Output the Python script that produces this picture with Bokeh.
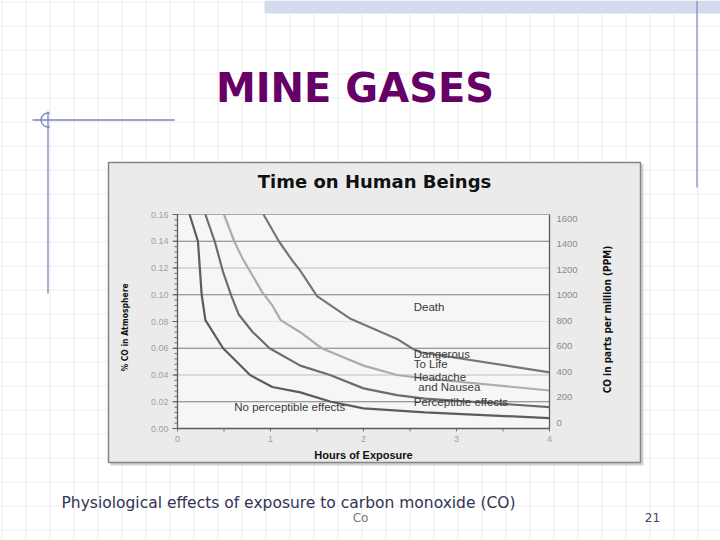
import numpy as np
from bokeh.plotting import figure
from bokeh.models import Range1d
from bokeh.core.properties import value
from bokeh.embed import file_html
from bokeh.resources import INLINE

# ---------------- data ----------------
hour_ticks = [0, 1, 2, 3, 4]
hour_labels = ["0", "1", "2", "3", "4"]
pct_ticks = [0.00, 0.02, 0.04, 0.06, 0.08, 0.10, 0.12, 0.14, 0.16]
pct_labels = ["0.00", "0.02", "0.04", "0.06", "0.08", "0.10", "0.12", "0.14", "0.16"]
ppm_ticks = [0, 200, 400, 600, 800, 1000, 1200, 1400, 1600]
ppm_labels = ["0", "200", "400", "600", "800", "1000", "1200", "1400", "1600"]

# boundary curves (hours of exposure, % CO in atmosphere)
noeffect_h = [0.13, 0.22, 0.26, 0.30, 0.49, 0.78, 1.02, 1.32, 1.65, 2.00, 2.66, 4.00]
noeffect_pct = [0.160, 0.140, 0.100, 0.081, 0.060, 0.040, 0.031, 0.027, 0.020, 0.015, 0.012, 0.0078]

headache_h = [0.30, 0.40, 0.49, 0.58, 0.66, 0.81, 0.99, 1.32, 1.64, 2.00, 2.36, 2.66, 4.00]
headache_pct = [0.160, 0.140, 0.117, 0.099, 0.085, 0.072, 0.060, 0.047, 0.040, 0.030, 0.025, 0.0224, 0.0160]

danger_h = [0.50, 0.61, 0.70, 0.81, 0.91, 1.02, 1.11, 1.32, 1.55, 2.00, 2.36, 2.66, 4.00]
danger_pct = [0.160, 0.140, 0.127, 0.114, 0.102, 0.092, 0.081, 0.072, 0.060, 0.047, 0.040, 0.0374, 0.0284]

death_h = [0.925, 1.09, 1.23, 1.32, 1.50, 1.86, 2.36, 2.52, 2.61, 4.00]
death_pct = [0.160, 0.140, 0.126, 0.118, 0.099, 0.082, 0.067, 0.060, 0.057, 0.042]

zone_text = ["Death", "Dangerous", "To Life", "Headache", "and Nausea", "Perceptible effects", "No perceptible effects"]
zone_h = [2.54, 2.54, 2.54, 2.54, 2.59, 2.54, 0.61]
zone_pct = [0.0905, 0.0557, 0.0479, 0.0385, 0.0307, 0.0198, 0.0161]

grid_levels = [0.02, 0.04, 0.06, 0.08, 0.10, 0.12, 0.14]

# ---------------- layout (screen pixels of the 720x540 window) ----------------
W, H, M = 720, 540, 0
PL, PR, PT, PB = 177, 549, 214, 428          # chart plot area
PPM0_Y, PPM1600_Y = 422, 218

hpp = 4.0 / (PR - PL)                         # hours per px
ppp = 0.16 / (PB - PT)                        # pct per px
mpp = 1600.0 / (PPM0_Y - PPM1600_Y)           # ppm per px

p = figure(width=W, height=H, x_range=Range1d(M, M + W), y_range=Range1d(M + H, M),
           x_axis_location=None, y_axis_location=None, min_border=0,
           toolbar_location=None, output_backend="svg")
p.grid.visible = False
p.outline_line_color = None
p.background_fill_color = "white"
p.border_fill_color = "white"

p.extra_x_ranges = {"hours": Range1d((M - PL) * hpp, (M + W - PL) * hpp)}
p.extra_y_ranges = {
    "pct": Range1d((PB - (M + H)) * ppp, (PB - M) * ppp),
    "ppm": Range1d((PPM0_Y - (M + H)) * mpp, (PPM0_Y - M) * mpp),
}

# ---------------- slide background ----------------
gx = np.arange(1, 721, 24) + 0.5
gy = np.arange(1, 541, 24) + 0.5
p.segment(x0=gx, y0=0, x1=gx, y1=540, line_color="#dadada", line_dash="1 1", line_width=1)
p.segment(x0=0, y0=gy, x1=720, y1=gy, line_color="#dadada", line_dash="1 1", line_width=1)

p.quad(left=264, right=720, top=0, bottom=13, fill_color="#d3dbec", line_color=None)
p.segment(x0=[696.5], y0=[0], x1=[696.5], y1=[187], line_color="#8290c0", line_width=1.3)
p.segment(x0=[32, 47.5], y0=[119.5, 111], x1=[174, 47.5], y1=[119.5, 293],
          line_color="#7786b6", line_width=1.3)
p.arc(x=[47.5], y=[119.5], radius=7, start_angle=np.pi * 0.42, end_angle=np.pi * 1.58,
      direction="anticlock", line_color="#7786b6", line_width=1.3)

p.text(x=[354.5], y=[87], text=["MINE GASES"], text_font=value("DejaVu Sans"),
       text_font_style="bold", text_font_size="40px", text_color="#660066",
       text_align="center", text_baseline="alphabetic")

# ---------------- chart picture ----------------
p.quad(left=110, right=643, top=164, bottom=465, fill_color="#d2d2d2", line_color=None)
p.quad(left=108, right=640, top=162, bottom=462, fill_color="#ebebeb",
       line_color="#858585", line_width=1.5)

p.text(x=[374], y=[181], text=["Time on Human Beings"], text_font=value("DejaVu Sans"),
       text_font_style="bold", text_font_size="18px", text_color="#111111",
       text_align="center", text_baseline="middle")

# plot area
p.quad(left=[0], right=[4], bottom=[0], top=[0.16], x_range_name="hours", y_range_name="pct",
       fill_color="#f6f6f6", line_color=None)
grid_colors = ["#7c7c7c", "#bdbdbd", "#7c7c7c", "#e2e2e2", "#7c7c7c", "#bdbdbd", "#7c7c7c"]
p.segment(x0=0, y0=grid_levels, x1=4, y1=grid_levels, line_color=grid_colors, line_width=1,
          x_range_name="hours", y_range_name="pct")
p.segment(x0=[0], y0=[0.16], x1=[4], y1=[0.16], line_color="#a8a8a8", line_width=1,
          x_range_name="hours", y_range_name="pct")

# curves
for hs, ps, col in [(noeffect_h, noeffect_pct, "#5c5c5c"),
                    (headache_h, headache_pct, "#6c6c6c"),
                    (danger_h, danger_pct, "#acacac"),
                    (death_h, death_pct, "#767676")]:
    p.line(hs, ps, line_color=col, line_width=2.2, x_range_name="hours", y_range_name="pct")

# axes lines and ticks
p.segment(x0=[0, 0, 4], y0=[0, 0, 0], x1=[0, 4, 4], y1=[0.16, 0, 0.16], line_color="#5a5a5a",
          line_width=1.3, x_range_name="hours", y_range_name="pct")
minor = np.arange(0, 0.1601, 0.004)
p.segment(x0=0, y0=minor, x1=-3 * hpp, y1=minor, line_color="#6a6a6a", line_width=1,
          x_range_name="hours", y_range_name="pct")
p.segment(x0=0, y0=pct_ticks, x1=-5 * hpp, y1=pct_ticks, line_color="#5a5a5a", line_width=1,
          x_range_name="hours", y_range_name="pct")
xt = np.arange(0, 4.01, 0.5)
p.segment(x0=xt, y0=0, x1=xt, y1=-3 * ppp, line_color="#6a6a6a", line_width=1,
          x_range_name="hours", y_range_name="pct")

# tick labels
p.text(x=0, y=pct_ticks, text=pct_labels, x_offset=-9, text_align="right", text_baseline="middle",
       text_font=value("Liberation Sans"), text_font_size="9px", text_color="#a0a0a0",
       x_range_name="hours", y_range_name="pct")
p.text(x=4, y=ppm_ticks, text=ppm_labels, x_offset=7, text_align="left", text_baseline="middle",
       text_font=value("Liberation Sans"), text_font_size="9.5px", text_color="#8a8a8a",
       x_range_name="hours", y_range_name="ppm")
p.text(x=hour_ticks, y=0, text=hour_labels, y_offset=10, text_align="center", text_baseline="middle",
       text_font=value("Liberation Sans"), text_font_size="9px", text_color="#a0a0a0",
       x_range_name="hours", y_range_name="pct")

# zone labels
p.text(x=zone_h, y=zone_pct, text=zone_text, text_align="left", text_baseline="middle",
       text_font=value("Liberation Sans"), text_font_size="11.5px", text_color="#3a3a3a",
       x_range_name="hours", y_range_name="pct")

# axis titles
narrow = value("Liberation Sans Narrow, DejaVu Sans Condensed, sans-serif")
p.text(x=[124], y=[327], text=["% CO in Atmosphere"], angle=np.pi / 2, text_font=narrow,
       text_font_style="bold", text_font_size="8.5px", text_color="#111111",
       text_align="center", text_baseline="middle")
p.text(x=[607], y=[319], text=["CO in parts per million (PPM)"], angle=np.pi / 2, text_font=narrow,
       text_font_style="bold", text_font_size="10px", text_color="#111111",
       text_align="center", text_baseline="middle")
p.text(x=[363], y=[454], text=["Hours of Exposure"], text_font=value("Liberation Sans"),
       text_font_style="bold", text_font_size="11px", text_color="#111111",
       text_align="center", text_baseline="middle")

# ---------------- caption & footer ----------------
p.text(x=[61], y=[502], text=["Physiological effects of exposure to carbon monoxide (CO)"],
       text_font=value("DejaVu Sans"), text_font_size="15.5px", text_color="#333355",
       text_align="left", text_baseline="middle")
p.text(x=[360], y=[517], text=["Co"], text_font=value("DejaVu Sans"), text_font_size="12px",
       text_color="#777777", text_align="center", text_baseline="middle")
p.text(x=[652], y=[517], text=["21"], text_font=value("DejaVu Sans"), text_font_size="12px",
       text_color="#444466", text_align="center", text_baseline="middle")

open("out.html", "w").write(file_html(p, INLINE))
